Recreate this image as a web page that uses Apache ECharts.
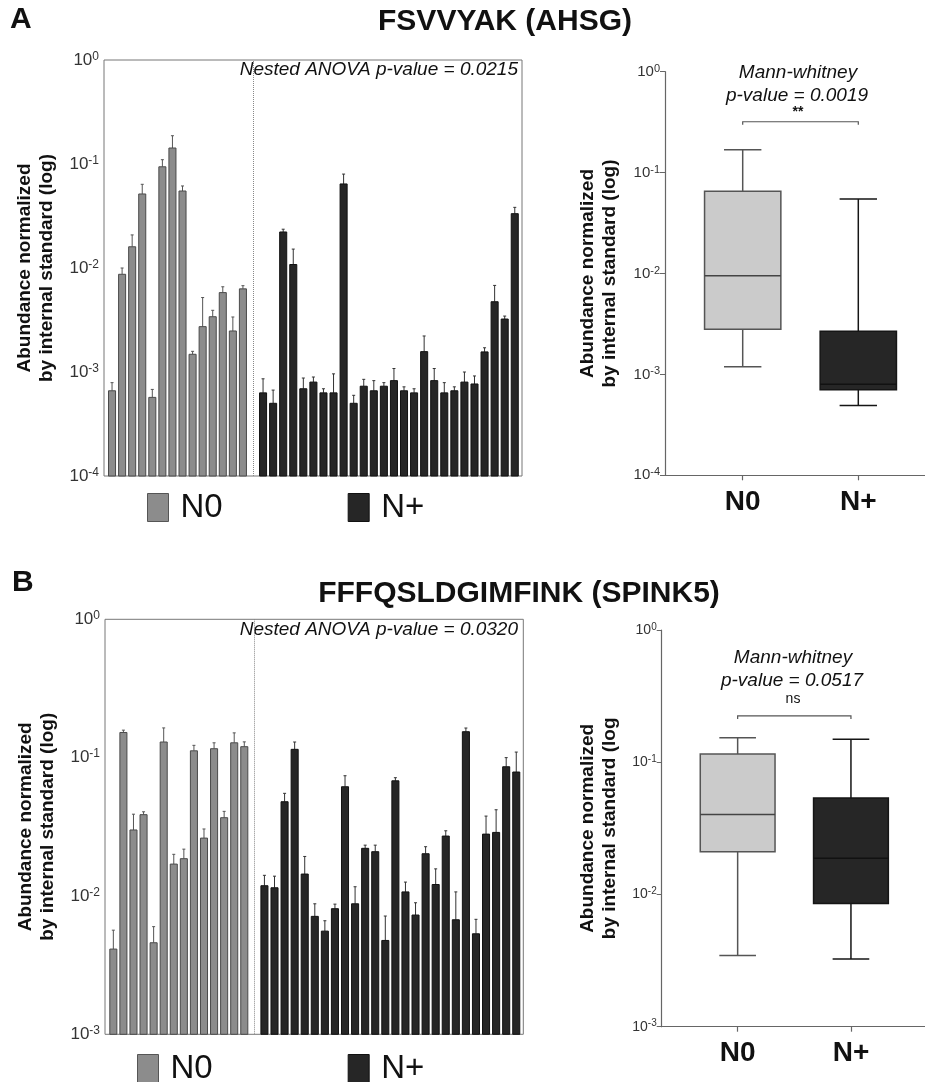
<!DOCTYPE html>
<html>
<head>
<meta charset="utf-8">
<script src="https://cdn.jsdelivr.net/npm/echarts@6/dist/echarts.min.js"></script>
<style>
  html, body { margin: 0; padding: 0; background: #fff; }
  #chart { width: 925px; height: 1082px; }
</style>
</head>
<body>
<div id="chart"></div>
<script>
// ---- data ----
// Panel A, FSVVYAK (AHSG): bar height (mean) and top of error bar per sample
var aN0Mean  = [6.6e-4, 8.7e-3, 0.016, 0.0515, 5.7e-4, 0.094, 0.1425, 0.055, 1.48e-3, 2.73e-3, 3.4e-3, 5.8e-3, 2.48e-3, 6.3e-3];
var aN0Upper = [7.9e-4, 0.010, 0.0208, 0.0638, 6.8e-4, 0.110, 0.187, 0.0615, 1.58e-3, 5.2e-3, 3.92e-3, 6.6e-3, 3.38e-3, 6.76e-3];
var aNpMean  = [6.3e-4, 5.0e-4, 0.0222, 0.0108, 6.9e-4, 8.0e-4, 6.3e-4, 6.3e-4, 0.0643, 5.0e-4, 7.3e-4, 6.6e-4, 7.3e-4,
                8.26e-4, 6.6e-4, 6.3e-4, 1.57e-3, 8.26e-4, 6.3e-4, 6.6e-4, 8.0e-4, 7.67e-4, 1.56e-3, 4.74e-3, 3.23e-3, 0.0333];
var aNpUpper = [8.6e-4, 6.7e-4, 0.0236, 0.0152, 8.75e-4, 8.95e-4, 6.9e-4, 9.6e-4, 0.080, 5.97e-4, 8.5e-4, 8.26e-4, 7.9e-4,
                1.08e-3, 7.2e-4, 6.9e-4, 2.22e-3, 1.08e-3, 7.9e-4, 7.2e-4, 1.0e-3, 9.16e-4, 1.71e-3, 6.8e-3, 3.45e-3, 0.0383];
// box: [min, Q1, median, Q3, max]
var aBoxN0 = [1.19e-3, 2.8e-3, 9.5e-3, 0.0652, 0.1686];
var aBoxNp = [4.93e-4, 7.05e-4, 7.97e-4, 2.67e-3, 0.0547];

// Panel B, FFFQSLDGIMFINK (SPINK5)
var bN0Mean  = [4.13e-3, 0.152, 0.030, 0.0387, 4.59e-3, 0.1297, 0.0170, 0.0186, 0.112, 0.0262, 0.116, 0.0368, 0.128, 0.120];
var bN0Upper = [5.66e-3, 0.158, 0.039, 0.0406, 6.0e-3, 0.164, 0.020, 0.0218, 0.1227, 0.0305, 0.128, 0.0409, 0.151, 0.130];
var bNpMean  = [0.01186, 0.01146, 0.048, 0.1148, 0.0144, 7.12e-3, 5.57e-3, 8.09e-3, 0.0616, 8.78e-3, 0.0221, 0.0209, 4.77e-3,
                0.068, 0.0107, 7.28e-3, 0.0202, 0.0121, 0.0271, 6.73e-3, 0.154, 5.33e-3, 0.028, 0.0288, 0.0859, 0.0787];
var bNpUpper = [0.0141, 0.0139, 0.0552, 0.1297, 0.0193, 8.78e-3, 6.62e-3, 8.73e-3, 0.074, 0.01166, 0.0233, 0.0233, 7.16e-3,
                0.0716, 0.0126, 8.93e-3, 0.0227, 0.0157, 0.0296, 0.0107, 0.1637, 6.78e-3, 0.0378, 0.042, 0.10, 0.1097];
var bBoxN0 = [3.46e-3, 0.021, 0.0403, 0.1153, 0.153];
var bBoxNp = [3.25e-3, 8.55e-3, 0.0188, 0.0536, 0.149];

var groups = ['N0', 'N+'];
var bracketA = 0.319, bracketB = 0.224;

// ---- helpers ----
var FONT = '"Liberation Sans", Arial, sans-serif';
var GREY = '#8c8c8c', DARK = '#262626', LIGHT = '#cbcbcb';

// category slots: N0 samples, one empty slot for the divider, N+ samples
function slots(nN0, nNp) {
  var c = [];
  for (var i = 0; i < nN0; i++) c.push('N0-' + (i + 1));
  c.push('|');
  for (var j = 0; j < nNp; j++) c.push('N+-' + (j + 1));
  return c;
}
function barData(mean, upper, offset) {
  return mean.map(function (v, i) { return [i + offset, v, upper[i]]; });
}
function barRender(border, errColor) {
  return function (params, api) {
    var i = api.value(0);
    var top = api.coord([i, api.value(1)]);
    var err = api.coord([i, api.value(2)]);
    var baseY = params.coordSys.y + params.coordSys.height;
    var w = api.size([1, 0])[0] * 0.7;
    return {
      type: 'group',
      children: [
        { type: 'line', shape: { x1: top[0], y1: top[1], x2: top[0], y2: err[1] }, style: { stroke: errColor, lineWidth: 1 } },
        { type: 'line', shape: { x1: top[0] - 1.5, y1: err[1], x2: top[0] + 1.5, y2: err[1] }, style: { stroke: errColor, lineWidth: 1 } },
        { type: 'rect', shape: { x: top[0] - w / 2, y: top[1], width: w, height: baseY - top[1] },
          style: { fill: api.visual('color'), stroke: border, lineWidth: 1 } }
      ]
    };
  };
}
var boxFill = [LIGHT, DARK], boxStroke = ['#555', '#151515'], boxMedian = ['#444', '#111'];
function boxRender(params, api) {
  var i = api.value(0);
  var x = api.coord([i, api.value(3)])[0];
  var yMin = api.coord([i, api.value(1)])[1];
  var yQ1 = api.coord([i, api.value(2)])[1];
  var yMed = api.coord([i, api.value(3)])[1];
  var yQ3 = api.coord([i, api.value(4)])[1];
  var yMax = api.coord([i, api.value(5)])[1];
  var bw = api.size([1, 0])[0] * 0.66, cw = bw * 0.49;
  var s = boxStroke[params.dataIndex];
  var ls = { stroke: s, lineWidth: 1.5 };
  return {
    type: 'group',
    children: [
      { type: 'line', shape: { x1: x, y1: yQ3, x2: x, y2: yMax }, style: ls },
      { type: 'line', shape: { x1: x - cw / 2, y1: yMax, x2: x + cw / 2, y2: yMax }, style: ls },
      { type: 'line', shape: { x1: x, y1: yQ1, x2: x, y2: yMin }, style: ls },
      { type: 'line', shape: { x1: x - cw / 2, y1: yMin, x2: x + cw / 2, y2: yMin }, style: ls },
      { type: 'rect', shape: { x: x - bw / 2, y: yQ3, width: bw, height: yQ1 - yQ3 },
        style: { fill: boxFill[params.dataIndex], stroke: s, lineWidth: 1.5 } },
      { type: 'line', shape: { x1: x - bw / 2, y1: yMed, x2: x + bw / 2, y2: yMed },
        style: { stroke: boxMedian[params.dataIndex], lineWidth: 1.5 } }
    ]
  };
}
function bracketRender(params, api) {
  var a = api.coord([0, api.value(1)]);
  var b = api.coord([1, api.value(1)]);
  return {
    type: 'polyline',
    shape: { points: [[a[0], a[1] + 3], [a[0], a[1]], [b[0], b[1]], [b[0], b[1] + 3]] },
    style: { stroke: '#555', lineWidth: 1.2, fill: null }
  };
}
function powLabel(size, sup) {
  return {
    formatter: function (v) { return '{b|10}{e|' + Math.round(Math.log10(v)) + '}'; },
    margin: 5,
    rich: {
      b: { fontSize: size, color: '#333', fontFamily: FONT, lineHeight: size + 2 },
      e: { fontSize: sup, color: '#333', fontFamily: FONT, verticalAlign: 'top' }
    }
  };
}
var yName = 'Abundance normalized\nby internal standard (log)';
var nameStyle = { fontSize: 19, fontWeight: 'bold', color: '#111', lineHeight: 22, fontFamily: FONT };

function hiddenLog(grid, min) {
  return { type: 'log', logBase: 10, min: min, max: 1, gridIndex: grid, show: false };
}
function frameLog(grid, min, size, sup, gap, name, line) {
  return {
    type: 'log', logBase: 10, min: min, max: 1, gridIndex: grid,
    name: name, nameLocation: 'middle', nameRotate: 90, nameGap: gap, nameTextStyle: nameStyle,
    axisLine: { show: line, lineStyle: { color: '#666', width: 1.2 } },
    axisTick: { show: line, length: 5, lineStyle: { color: '#666' } },
    axisLabel: powLabel(size, sup),
    splitLine: { show: false }, minorTick: { show: false }
  };
}
function lineAxis(grid) {
  return { type: 'value', gridIndex: grid, axisLine: { show: true, onZero: false, lineStyle: { color: '#666', width: 1.2 } },
    axisTick: { show: false }, axisLabel: { show: false }, splitLine: { show: false } };
}
function groupAxis(grid) {
  return { type: 'category', gridIndex: grid, data: groups, boundaryGap: true,
    axisLine: { show: false },
    axisTick: { show: true, alignWithLabel: true, length: 5, lineStyle: { color: '#666', width: 1.2 } },
    axisLabel: { margin: 13, fontSize: 28, fontWeight: 'bold', color: '#111', fontFamily: FONT },
    splitLine: { show: false } };
}
var divider = {
  symbol: ['none', 'none'], silent: true, label: { show: false },
  lineStyle: { type: 'dotted', color: '#888', width: 1 },
  data: [{ xAxis: '|' }]
};

var myChart = echarts.init(document.getElementById('chart'), null, { renderer: 'canvas' });
myChart.setOption({
  animation: false,
  backgroundColor: '#fff',
  textStyle: { fontFamily: FONT },
  grid: [
    { left: 104, top: 60, width: 418, height: 416, show: true, borderColor: '#777', borderWidth: 1 },
    { left: 107, top: 60, width: 412.8, height: 416 },
    { left: 665, top: 71.7, width: 260, height: 403.6 },
    { left: 684.9, top: 71.7, width: 231.2, height: 403.6 },
    { left: 105, top: 619.3, width: 418.3, height: 415, show: true, borderColor: '#777', borderWidth: 1 },
    { left: 108.3, top: 619.3, width: 413, height: 415 },
    { left: 661.7, top: 630, width: 263.3, height: 396.7 },
    { left: 681, top: 630, width: 226.6, height: 396.7 }
  ],
  xAxis: [
    { type: 'value', gridIndex: 0, show: false },
    { type: 'category', gridIndex: 1, data: slots(aN0Mean.length, aNpMean.length), show: false },
    lineAxis(2),
    groupAxis(3),
    { type: 'value', gridIndex: 4, show: false },
    { type: 'category', gridIndex: 5, data: slots(bN0Mean.length, bNpMean.length), show: false },
    lineAxis(6),
    groupAxis(7)
  ],
  yAxis: [
    frameLog(0, 1e-4, 17, 12, 46, yName, false),
    hiddenLog(1, 1e-4),
    frameLog(2, 1e-4, 15, 11, 44.5, yName, true),
    hiddenLog(3, 1e-4),
    frameLog(4, 1e-3, 17, 12, 46, yName, false),
    hiddenLog(5, 1e-3),
    frameLog(6, 1e-3, 14, 10, 41, 'Abundance normalized\nby internal standard (log', true),
    hiddenLog(7, 1e-3)
  ],
  legend: [
    { left: 147, top: 491, padding: 0, itemWidth: 21, itemHeight: 28, itemGap: 125, selectedMode: false,
      textStyle: { fontSize: 33, color: '#111', padding: [0, 0, 0, 7] },
      data: [{ name: 'N0', icon: 'rect', itemStyle: { color: GREY, borderColor: '#555', borderWidth: 1 } },
             { name: 'N+', icon: 'rect', itemStyle: { color: DARK, borderColor: '#111', borderWidth: 1 } }] },
    { left: 137, top: 1052, padding: 0, itemWidth: 21, itemHeight: 28, itemGap: 135, selectedMode: false,
      textStyle: { fontSize: 33, color: '#111', padding: [0, 0, 0, 7] },
      data: [{ name: 'N0', icon: 'rect', itemStyle: { color: GREY, borderColor: '#555', borderWidth: 1 } },
             { name: 'N+', icon: 'rect', itemStyle: { color: DARK, borderColor: '#111', borderWidth: 1 } }] }
  ],
  series: [
    { name: 'N0', type: 'custom', xAxisIndex: 1, yAxisIndex: 1, itemStyle: { color: GREY },
      renderItem: barRender('#4a4a4a', '#555'), data: barData(aN0Mean, aN0Upper, 0), markLine: divider },
    { name: 'N+', type: 'custom', xAxisIndex: 1, yAxisIndex: 1, itemStyle: { color: DARK },
      renderItem: barRender('#111', '#333'), data: barData(aNpMean, aNpUpper, aN0Mean.length + 1) },
    { name: 'boxA', type: 'custom', xAxisIndex: 3, yAxisIndex: 3, renderItem: boxRender,
      encode: { x: 0, y: [1, 2, 3, 4, 5] },
      data: [[0].concat(aBoxN0), [1].concat(aBoxNp)] },
    { name: 'bracketA', type: 'custom', xAxisIndex: 3, yAxisIndex: 3, renderItem: bracketRender,
      data: [[0, bracketA]] },
    { name: 'N0', type: 'custom', xAxisIndex: 5, yAxisIndex: 5, itemStyle: { color: GREY },
      renderItem: barRender('#4a4a4a', '#555'), data: barData(bN0Mean, bN0Upper, 0), markLine: divider },
    { name: 'N+', type: 'custom', xAxisIndex: 5, yAxisIndex: 5, itemStyle: { color: DARK },
      renderItem: barRender('#111', '#333'), data: barData(bNpMean, bNpUpper, bN0Mean.length + 1) },
    { name: 'boxB', type: 'custom', xAxisIndex: 7, yAxisIndex: 7, renderItem: boxRender,
      encode: { x: 0, y: [1, 2, 3, 4, 5] },
      data: [[0].concat(bBoxN0), [1].concat(bBoxNp)] },
    { name: 'bracketB', type: 'custom', xAxisIndex: 7, yAxisIndex: 7, renderItem: bracketRender,
      data: [[0, bracketB]] }
  ],
  graphic: [
    { type: 'text', x: 10, y: 20, style: { text: 'A', font: 'bold 30px ' + FONT, fill: '#111', textAlign: 'left', textVerticalAlign: 'middle' } },
    { type: 'text', x: 505, y: 22, style: { text: 'FSVVYAK (AHSG)', font: 'bold 30px ' + FONT, fill: '#111', textAlign: 'center', textVerticalAlign: 'middle' } },
    { type: 'text', x: 518, y: 70, style: { text: 'Nested ANOVA p-value = 0.0215', font: 'italic 19px ' + FONT, fill: '#111', textAlign: 'right', textVerticalAlign: 'middle' } },
    { type: 'text', x: 798, y: 73, style: { text: 'Mann-whitney', font: 'italic 19px ' + FONT, fill: '#111', textAlign: 'center', textVerticalAlign: 'middle' } },
    { type: 'text', x: 797, y: 96, style: { text: 'p-value = 0.0019', font: 'italic 19px ' + FONT, fill: '#111', textAlign: 'center', textVerticalAlign: 'middle' } },
    { type: 'text', x: 798, y: 112, style: { text: '**', font: 'bold 14px ' + FONT, fill: '#111', textAlign: 'center', textVerticalAlign: 'middle' } },
    { type: 'text', x: 12, y: 583, style: { text: 'B', font: 'bold 30px ' + FONT, fill: '#111', textAlign: 'left', textVerticalAlign: 'middle' } },
    { type: 'text', x: 519, y: 594, style: { text: 'FFFQSLDGIMFINK (SPINK5)', font: 'bold 30px ' + FONT, fill: '#111', textAlign: 'center', textVerticalAlign: 'middle' } },
    { type: 'text', x: 518, y: 630, style: { text: 'Nested ANOVA p-value = 0.0320', font: 'italic 19px ' + FONT, fill: '#111', textAlign: 'right', textVerticalAlign: 'middle' } },
    { type: 'text', x: 793, y: 658, style: { text: 'Mann-whitney', font: 'italic 19px ' + FONT, fill: '#111', textAlign: 'center', textVerticalAlign: 'middle' } },
    { type: 'text', x: 792, y: 681, style: { text: 'p-value = 0.0517', font: 'italic 19px ' + FONT, fill: '#111', textAlign: 'center', textVerticalAlign: 'middle' } },
    { type: 'text', x: 793, y: 699, style: { text: 'ns', font: '14px ' + FONT, fill: '#111', textAlign: 'center', textVerticalAlign: 'middle' } }
  ]
});

window.addEventListener('resize', function () { myChart.resize(); });
</script>
</body>
</html>
